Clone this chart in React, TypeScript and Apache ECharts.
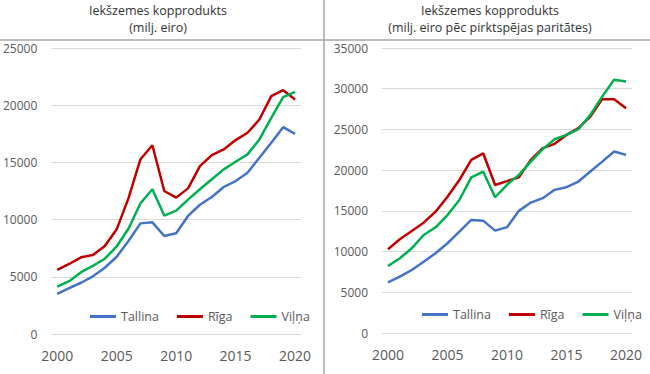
import React, { useEffect, useRef } from "react";
import * as echarts from "echarts";

const years = ["2000","2001","2002","2003","2004","2005","2006","2007","2008","2009","2010","2011","2012","2013","2014","2015","2016","2017","2018","2019","2020"];

const tallinaNominal = [3500, 4000, 4480, 5040, 5790, 6750, 8150, 9670, 9760, 8570, 8800, 10320, 11300, 11970, 12850, 13370, 14100, 15410, 16720, 18080, 17500];
const rigaNominal = [5600, 6120, 6700, 6900, 7700, 9150, 11900, 15280, 16500, 12500, 11920, 12730, 14680, 15640, 16130, 16950, 17590, 18750, 20790, 21310, 20500];
const vilnaNominal = [4150, 4620, 5400, 5950, 6580, 7650, 9220, 11430, 12650, 10350, 10780, 11750, 12650, 13520, 14390, 15060, 15700, 17010, 18900, 20700, 21170];

const tallinaPPS = [6230, 6920, 7740, 8760, 9790, 11020, 12440, 13880, 13800, 12570, 13000, 15000, 16020, 16560, 17580, 17910, 18600, 19830, 21050, 22280, 21880];
const rigaPPS = [10280, 11510, 12530, 13550, 14900, 16740, 18790, 21250, 22070, 18180, 18650, 19130, 21260, 22700, 23230, 24330, 25160, 26580, 28720, 28720, 27610];
const vilnaPPS = [8230, 9180, 10400, 12040, 12980, 14490, 16330, 19120, 19810, 16670, 18200, 19420, 21050, 22580, 23800, 24330, 25030, 26790, 29040, 31090, 30880];

const seriesNames = ["Tallina", "Rīga", "Viļņa"];
const colors = ["#4472C4", "#C00000", "#00B050"];
const leftTitle = ["Iekšzemes kopprodukts", "(milj. eiro)"];
const rightTitle = ["Iekšzemes kopprodukts", "(milj. eiro pēc pirktspējas paritātes)"];

export default function App() {
  const ref = useRef<HTMLDivElement>(null);
  useEffect(() => {
    document.body.style.margin = "0";
    const chart = echarts.init(ref.current!, null, { renderer: "svg" });
    const font = "Open Sans";
    const labelColor = "#595959";
    const mkX = (g: number) => ({
      type: "category",
      gridIndex: g,
      data: years,
      boundaryGap: true,
      axisTick: { show: false },
      axisLine: { show: false },
      axisLabel: { interval: 4, color: labelColor, fontSize: 14, margin: 14, fontFamily: font },
    });
    const mkY = (g: number, max: number) => ({
      type: "value",
      gridIndex: g,
      min: 0,
      max,
      interval: 5000,
      axisLine: { show: false },
      axisTick: { show: false },
      axisLabel: { color: labelColor, fontSize: 12, margin: 14, fontFamily: font, formatter: (v: number) => String(v) },
      splitLine: { lineStyle: { color: "#d9d9d9", width: 1 } },
    });
    const mkS = (name: string, data: number[], idx: number, g: number) => ({
      type: "line",
      name,
      data,
      xAxisIndex: g,
      yAxisIndex: g,
      symbol: "none",
      lineStyle: { width: 2.5, color: colors[idx] },
      itemStyle: { color: colors[idx] },
    });
    const mkLegend = (left: number, top: number) => ({
      data: seriesNames,
      left,
      top,
      padding: 0,
      itemGap: 18,
      itemWidth: 26,
      itemHeight: 3,
      icon: "rect",
      textStyle: { color: labelColor, fontSize: 12.5, fontFamily: font },
    });
    const titleText = (x: number, lines: string[]) =>
      lines.map((t, i) => ({
        type: "text",
        x,
        y: 10 + i * 17,
        style: { text: t, fill: "#333333", font: `12.5px '${font}'`, textAlign: "center", textVerticalAlign: "middle" },
      }));
    chart.setOption({
      animation: false,
      textStyle: { fontFamily: font },
      graphic: [
        { type: "line", shape: { x1: 0, y1: 40, x2: 650, y2: 40 }, style: { stroke: "#a6a6a6", lineWidth: 1.5 } },
        { type: "line", shape: { x1: 324, y1: 0, x2: 324, y2: 374 }, style: { stroke: "#a6a6a6", lineWidth: 1.5 } },
        ...titleText(158, leftTitle),
        ...titleText(490, rightTitle),
      ],
      grid: [
        { left: 50, top: 48, width: 251, height: 286 },
        { left: 382, top: 48, width: 250, height: 285 },
      ],
      xAxis: [mkX(0), mkX(1)],
      yAxis: [mkY(0, 25000), mkY(1, 35000)],
      legend: [mkLegend(90, 310), mkLegend(422, 308)],
      series: [
        mkS(seriesNames[0], tallinaNominal, 0, 0),
        mkS(seriesNames[1], rigaNominal, 1, 0),
        mkS(seriesNames[2], vilnaNominal, 2, 0),
        mkS(seriesNames[0], tallinaPPS, 0, 1),
        mkS(seriesNames[1], rigaPPS, 1, 1),
        mkS(seriesNames[2], vilnaPPS, 2, 1),
      ],
    });
    return () => chart.dispose();
  }, []);
  return <div ref={ref} style={{ width: 650, height: 374 }} />;
}
